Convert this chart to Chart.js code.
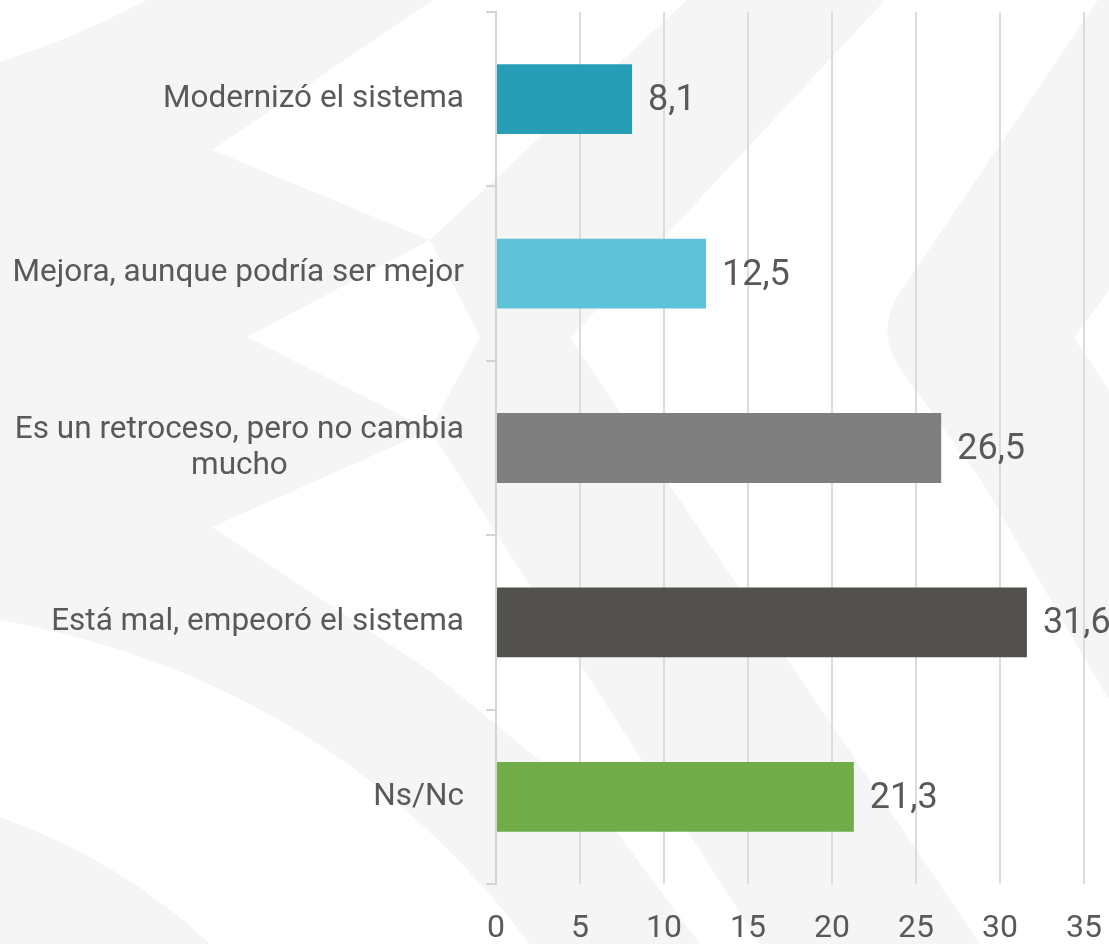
<!DOCTYPE html>
<html>
<head>
<meta charset="utf-8">
<script src="https://cdn.jsdelivr.net/npm/chart.js@4"></script>
<style>
  html, body { margin: 0; padding: 0; background: #fff; }
  #wrap { width: 1109px; height: 944px; }
</style>
</head>
<body>
<div id="wrap"><canvas id="chart" width="1109" height="944"></canvas></div>
<script>
const categories = [
  ["Modernizó el sistema"],
  ["Mejora, aunque podría ser mejor"],
  ["Es un retroceso, pero no cambia", "mucho"],
  ["Está mal, empeoró el sistema"],
  ["Ns/Nc"],
];
const values = [8.1, 12.5, 26.5, 31.6, 21.3];
const barColors = ["#289db6", "#5ec3d7", "#7f7f7f", "#52514d", "#70ac47"];
const xTicks = [0, 5, 10, 15, 20, 25, 30, 35];

const FONT = "Roboto, 'Open Sans', sans-serif";
const TEXT = "#595959";

// faint background pattern (decoration only)
const backdrop = {
  id: "backdrop",
  beforeDraw(chart) {
    const c = chart.ctx;
    c.save();
    c.fillStyle = "#ffffff";
    c.fillRect(0, 0, chart.width, chart.height);
    c.fillStyle = "#f5f5f5";
    const poly = (pts) => {
      c.beginPath();
      c.moveTo(pts[0][0], pts[0][1]);
      for (let i = 1; i < pts.length; i++) c.lineTo(pts[i][0], pts[i][1]);
      c.closePath();
      c.fill();
    };
    // left group
    c.beginPath();
    c.moveTo(0, 62);
    c.quadraticCurveTo(75, 38, 147, 0);
    c.lineTo(433, 0);
    c.lineTo(212, 150);
    c.lineTo(430, 240);
    c.lineTo(247, 337);
    c.lineTo(430, 430);
    c.lineTo(212, 527);
    c.lineTo(433, 673);
    c.lineTo(600, 810);
    c.lineTo(700, 944);
    c.lineTo(530, 944);
    c.quadraticCurveTo(330, 680, 0, 620);
    c.closePath();
    c.fill();
    // bottom left corner
    c.beginPath();
    c.moveTo(0, 817);
    c.quadraticCurveTo(120, 860, 210, 944);
    c.lineTo(0, 944);
    c.closePath();
    c.fill();
    // first chevron band
    poly([[687, 0], [885, 0], [570, 338], [980, 944], [760, 944], [430, 430], [480, 337], [430, 240]]);
    // second chevron band with rounded nose
    c.beginPath();
    c.moveTo(1098, 0);
    c.lineTo(1109, 0);
    c.lineTo(1109, 290);
    c.lineTo(1074, 338);
    c.lineTo(1109, 390);
    c.lineTo(1109, 700);
    c.lineTo(981, 480);
    c.lineTo(905, 375);
    c.quadraticCurveTo(870, 330, 905, 285);
    c.closePath();
    c.fill();
    c.restore();
  },
};

// category labels: block right-aligned, lines centered inside block
const catLabels = {
  id: "catLabels",
  afterDraw(chart) {
    const c = chart.ctx;
    const y = chart.scales.y;
    const x = chart.scales.x;
    const right = 464;
    const lh = 36;
    c.save();
    c.font = "31.5px " + FONT;
    c.fillStyle = TEXT;
    c.textAlign = "center";
    c.textBaseline = "middle";
    categories.forEach((lines, i) => {
      const w = Math.max(...lines.map((l) => c.measureText(l).width));
      const cy = y.getPixelForValue(i);
      const top = cy - ((lines.length - 1) * lh) / 2;
      lines.forEach((l, j) => c.fillText(l, right - w / 2, top + j * lh));
    });
    // value axis labels
    c.font = "32px " + FONT;
    xTicks.forEach((v) => c.fillText(String(v), x.getPixelForValue(v), 929));
    c.restore();
  },
};

const valueLabels = {
  id: "valueLabels",
  afterDatasetsDraw(chart) {
    const c = chart.ctx;
    const meta = chart.getDatasetMeta(0);
    c.save();
    c.font = "36px " + FONT;
    c.fillStyle = TEXT;
    c.textAlign = "left";
    c.textBaseline = "middle";
    meta.data.forEach((bar, i) => {
      c.fillText(values[i].toFixed(1).replace(".", ","), bar.x + 16, bar.y + 2);
    });
    c.restore();
  },
};

new Chart(document.getElementById("chart"), {
  type: "bar",
  data: {
    labels: categories,
    datasets: [
      {
        data: values,
        backgroundColor: barColors,
        barPercentage: 0.4,
        categoryPercentage: 1,
      },
    ],
  },
  options: {
    indexAxis: "y",
    responsive: false,
    animation: false,
    layout: { padding: { top: 12, right: 25, left: 0, bottom: 0 } },
    plugins: { legend: { display: false }, tooltip: { enabled: false } },
    scales: {
      x: {
        min: 0,
        max: 35,
        afterBuildTicks: (s) => { s.ticks = xTicks.map((v) => ({ value: v })); },
        grid: { color: "#dcdcdc", lineWidth: 2, drawTicks: false },
        border: { display: false },
        ticks: { display: false },
        afterFit: (s) => { s.height = 60; },
      },
      y: {
        grid: { drawOnChartArea: false, color: "#d4d4d4", lineWidth: 2, tickLength: 10, offset: true },
        border: { color: "#d4d4d4", width: 2 },
        ticks: { display: false },
        afterFit: (s) => { s.width = 496; },
      },
    },
  },
  plugins: [backdrop, catLabels, valueLabels],
});
</script>
</body>
</html>
